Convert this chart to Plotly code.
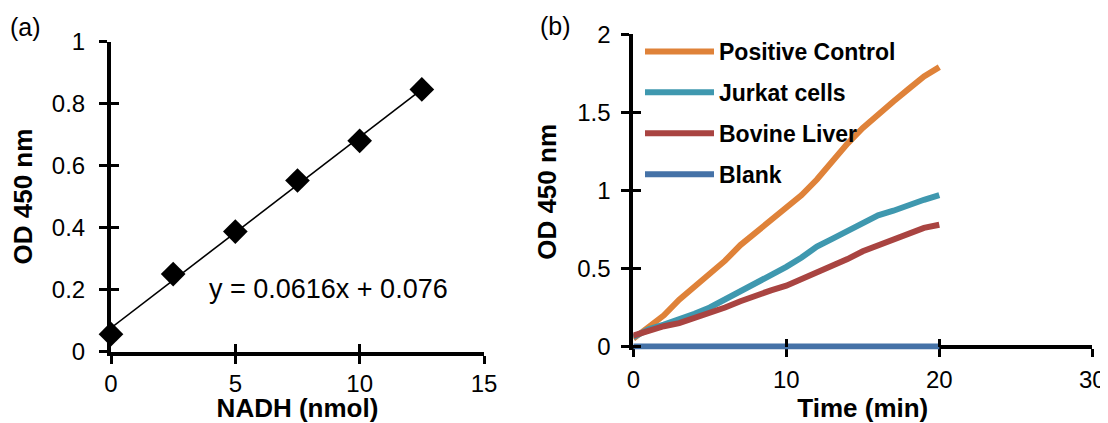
import plotly.graph_objects as go

# ---- panel (a): NADH standard curve ----
nadh_nmol = [0, 2.5, 5, 7.5, 10, 12.5]
od_std = [0.056, 0.25, 0.387, 0.552, 0.68, 0.846]
slope = 0.0616
intercept = 0.076
equation_text = "y = 0.0616x + 0.076"

# ---- panel (b): kinetic curves ----
time_min = list(range(0, 21))
positive_control = [0.05, 0.12, 0.20, 0.30, 0.38, 0.46, 0.55, 0.65, 0.73, 0.81, 0.89,
                    0.97, 1.07, 1.19, 1.30, 1.40, 1.49, 1.57, 1.65, 1.73, 1.79]
jurkat_cells = [0.06, 0.11, 0.14, 0.17, 0.21, 0.25, 0.30, 0.35, 0.40, 0.45, 0.51,
                0.57, 0.64, 0.69, 0.74, 0.79, 0.84, 0.87, 0.91, 0.94, 0.97]
bovine_liver = [0.07, 0.10, 0.13, 0.15, 0.18, 0.21, 0.25, 0.29, 0.33, 0.36, 0.39,
                0.43, 0.47, 0.52, 0.56, 0.61, 0.65, 0.69, 0.73, 0.76, 0.78]
blank = [0.0] * 21
series_names = ["Positive Control", "Jurkat cells", "Bovine Liver", "Blank"]
series_colors = ["#DF8239", "#3F98AF", "#A94441", "#4572A7"]

# page body has an 8px margin: the figure sits at (8, 8) inside the 1108x423 window
VW, VH = 1108, 423
OFF = 8
W, H = VW - OFF, VH - OFF
FONT = "Liberation Sans, Arial, sans-serif"


def px(xp):
    return (xp - OFF) / W


def py(yp):
    return (VH - yp) / H


fig = go.Figure()

# trendline through the fitted equation
fit_x = [nadh_nmol[0], nadh_nmol[-1]]
fit_y = [slope * v + intercept for v in fit_x]
fig.add_trace(go.Scatter(x=fit_x, y=fit_y, mode="lines", line=dict(color="black", width=1.6),
                         showlegend=False, hoverinfo="skip", xaxis="x", yaxis="y"))
fig.add_trace(go.Scatter(x=nadh_nmol, y=od_std, mode="markers",
                         marker=dict(symbol="diamond", size=19, color="black"),
                         cliponaxis=False, showlegend=False, xaxis="x", yaxis="y"))

for name, vals, col in zip(series_names, [positive_control, jurkat_cells, bovine_liver, blank], series_colors):
    fig.add_trace(go.Scatter(x=time_min, y=vals, mode="lines", name=name,
                             line=dict(color=col, width=6), legendgroup=name,
                             xaxis="x2", yaxis="y2"))

# empty traces for the inside-tick overlay axes
fig.add_trace(go.Scatter(x=[], y=[], xaxis="x3", yaxis="y3", showlegend=False, hoverinfo="skip"))
fig.add_trace(go.Scatter(x=[], y=[], xaxis="x4", yaxis="y4", showlegend=False, hoverinfo="skip"))

tick_font = dict(family=FONT, size=24, color="black")
title_font = dict(family=FONT, size=26, color="black", weight="bold")

dom_ax = [px(111), px(484)]
dom_ay = [py(351.5), py(41.7)]
dom_bx = [px(633.3), px(1092.3)]
dom_by = [py(349.5), py(34.3)]
pos_bx = py(346.5)

common = dict(showgrid=False, zeroline=False, linecolor="black", linewidth=4, automargin=False,
              ticks="outside", ticklen=8, tickwidth=3, tickcolor="black", tickfont=tick_font)
overlay = dict(showgrid=False, zeroline=False, showline=False, ticks="inside", ticklen=8,
               tickwidth=3, tickcolor="black", showticklabels=False, automargin=False)

ymin_b = -0.019

fig.update_layout(
    template="none",
    width=W, height=H, margin=dict(l=0, r=0, t=0, b=0, autoexpand=False),
    paper_bgcolor="white", plot_bgcolor="white",
    font=dict(family=FONT, color="black"),
    xaxis=dict(domain=dom_ax, range=[0, 15], dtick=5, anchor="y", showline=True,
               title=dict(text="NADH (nmol)", font=title_font, standoff=5),
               ticklabelstandoff=0, **common),
    yaxis=dict(domain=dom_ay, range=[0, 1], dtick=0.2, anchor="x", showline=True,
               title=dict(text="OD 450 nm", font=title_font, standoff=18),
               ticklabelstandoff=9, **common),
    xaxis2=dict(domain=dom_bx, range=[0, 30], dtick=10, anchor="free", position=pos_bx,
                showline=True, layer="below traces",
                title=dict(text="Time (min)", font=title_font, standoff=5),
                ticklabelstandoff=3, **common),
    yaxis2=dict(domain=dom_by, range=[ymin_b, 2], dtick=0.5, anchor="x2", showline=True,
                title=dict(text="OD 450 nm", font=title_font, standoff=14),
                ticklabelstandoff=6, **common),
    xaxis3=dict(overlaying="x", anchor="y", range=[0, 15], dtick=5, **overlay),
    yaxis3=dict(overlaying="y", anchor="x", range=[0, 1], dtick=0.2, **overlay),
    xaxis4=dict(overlaying="x2", anchor="free", position=pos_bx, range=[0, 30], dtick=10, **overlay),
    yaxis4=dict(overlaying="y2", anchor="x2", range=[ymin_b, 2], dtick=0.5, **overlay),
    legend=dict(x=px(640), y=py(30), xanchor="left", yanchor="top",
                bgcolor="rgba(0,0,0,0)",
                font=dict(family=FONT, size=23, color="black", weight="bold"),
                itemwidth=69, tracegroupgap=8),
    annotations=[
        dict(text=equation_text, x=3.85, y=0.203, xref="x", yref="y", xanchor="left",
             yanchor="middle", showarrow=False, font=dict(family=FONT, size=27, color="black")),
        dict(text="(a)", x=px(8), y=py(27), xref="paper", yref="paper", xanchor="left",
             yanchor="middle", showarrow=False, font=dict(family=FONT, size=25, color="black")),
        dict(text="(b)", x=px(538), y=py(26), xref="paper", yref="paper", xanchor="left",
             yanchor="middle", showarrow=False, font=dict(family=FONT, size=25, color="black")),
    ],
)

fig.write_html("out.html")
